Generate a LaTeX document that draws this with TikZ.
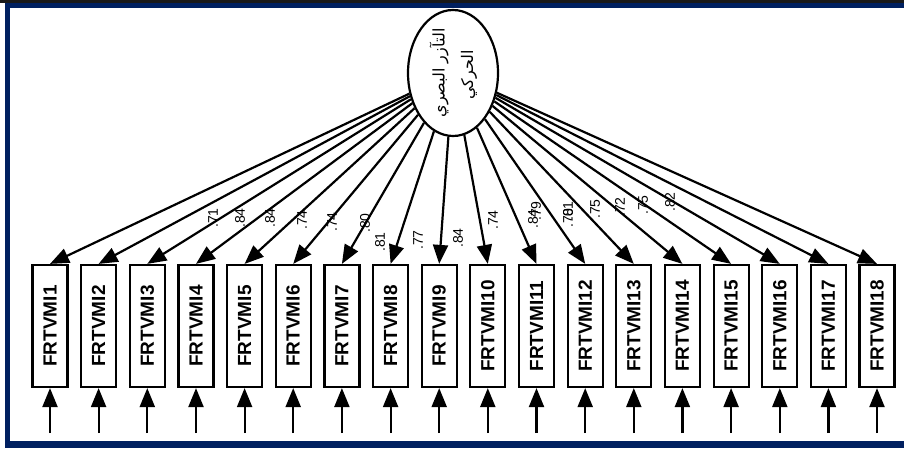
\documentclass[tikz,border=0pt]{standalone}
\usepackage{fontspec}
\setmainfont{Liberation Sans}
\newfontfamily\arabicfont[Script=Arabic]{DejaVu Sans}
\TeXXeTstate=1
\usetikzlibrary{arrows.meta,shapes.geometric}
\definecolor{framenavy}{RGB}{0,32,96}

\tikzset{
  obs/.style={draw, line width=2.2pt, fill=white, minimum width=35pt,
    minimum height=122pt, inner sep=0pt,
    font=\fontsize{19}{19}\selectfont\bfseries},
  latent/.style={draw, ellipse, line width=2.2pt, minimum width=90pt,
    minimum height=126pt, inner sep=0pt},
  lvlabel/.style={rotate=90, inner sep=0pt,
    font=\arabicfont\fontsize{16}{16}\selectfont},
  load/.style={->, line width=2.2pt},
  err/.style={->, line width=2.2pt},
  coef/.style={rotate=90, inner sep=0pt, font=\fontsize{14}{14}\selectfont}
}

\begin{document}
\begin{tikzpicture}[x=1pt,y=1pt,>={Triangle[length=19pt,width=15pt]}]

\useasboundingbox (0,0) rectangle (904,448);

% cadre
\fill[black!90] (0,445) rectangle (904,448);
\fill[framenavy] (5,440) rectangle (904,445);
\fill[framenavy] (5,0) rectangle (10,440);
\fill[framenavy] (5,0) rectangle (904,7);

% variable latente
\node[latent] (lv) at (453,375) {};
\node[lvlabel] (lv1) at (439,375) {\beginR التآزر البصري\endR};
\node[lvlabel] (lv2) at (469,373) {\beginR الحركي\endR};

% indicateurs
\node[obs] (v1) at (50.0,122) {\rotatebox{90}{FRTVMI1}};
\node[obs] (v2) at (98.6,122) {\rotatebox{90}{FRTVMI2}};
\node[obs] (v3) at (147.3,122) {\rotatebox{90}{FRTVMI3}};
\node[obs] (v4) at (196.0,122) {\rotatebox{90}{FRTVMI4}};
\node[obs] (v5) at (244.6,122) {\rotatebox{90}{FRTVMI5}};
\node[obs] (v6) at (293.2,122) {\rotatebox{90}{FRTVMI6}};
\node[obs] (v7) at (341.9,122) {\rotatebox{90}{FRTVMI7}};
\node[obs] (v8) at (390.6,122) {\rotatebox{90}{FRTVMI8}};
\node[obs] (v9) at (439.2,122) {\rotatebox{90}{FRTVMI9}};
\node[obs] (v10) at (487.8,122) {\rotatebox{90}{FRTVMI10}};
\node[obs] (v11) at (536.5,122) {\rotatebox{90}{FRTVMI11}};
\node[obs] (v12) at (585.2,122) {\rotatebox{90}{FRTVMI12}};
\node[obs] (v13) at (633.8,122) {\rotatebox{90}{FRTVMI13}};
\node[obs] (v14) at (682.4,122) {\rotatebox{90}{FRTVMI14}};
\node[obs] (v15) at (731.1,122) {\rotatebox{90}{FRTVMI15}};
\node[obs] (v16) at (779.8,122) {\rotatebox{90}{FRTVMI16}};
\node[obs] (v17) at (828.4,122) {\rotatebox{90}{FRTVMI17}};
\node[obs] (v18) at (877.0,122) {\rotatebox{90}{FRTVMI18}};

% saturations
\draw[load] (lv) -- (v1.north);
\draw[load] (lv) -- (v2.north);
\draw[load] (lv) -- (v3.north);
\draw[load] (lv) -- (v4.north);
\draw[load] (lv) -- (v5.north);
\draw[load] (lv) -- (v6.north);
\draw[load] (lv) -- (v7.north);
\draw[load] (lv) -- (v8.north);
\draw[load] (lv) -- (v9.north);
\draw[load] (lv) -- (v10.north);
\draw[load] (lv) -- (v11.north);
\draw[load] (lv) -- (v12.north);
\draw[load] (lv) -- (v13.north);
\draw[load] (lv) -- (v14.north);
\draw[load] (lv) -- (v15.north);
\draw[load] (lv) -- (v16.north);
\draw[load] (lv) -- (v17.north);
\draw[load] (lv) -- (v18.north);

% coefficients
\node[coef] (c1) at (213,230) {.71};
\node[coef] (c2) at (240,230) {.84};
\node[coef] (c3) at (270,230) {.84};
\node[coef] (c4) at (302,228) {.74};
\node[coef] (c5) at (332,226) {.74};
\node[coef] (c6) at (365,225) {.80};
\node[coef] (c7) at (380,206) {.81};
\node[coef] (c8) at (418,208) {.77};
\node[coef] (c9) at (458,210) {.84};
\node[coef] (c10) at (493,228) {.74};
\node[coef] (c11) at (533,229) {.84};
\node[coef] (c12) at (536,237) {.79};
\node[coef] (c13) at (568,230) {.70};
\node[coef] (c14) at (568,237) {.81};
\node[coef] (c15) at (595,239) {.75};
\node[coef] (c16) at (620,241) {.72};
\node[coef] (c17) at (643,243) {.75};
\node[coef] (c18) at (670,246) {.82};

% erreurs
\coordinate (e1) at (50.0,15);
\coordinate (e2) at (98.6,15);
\coordinate (e3) at (147.3,15);
\coordinate (e4) at (196.0,15);
\coordinate (e5) at (244.6,15);
\coordinate (e6) at (293.2,15);
\coordinate (e7) at (341.9,15);
\coordinate (e8) at (390.6,15);
\coordinate (e9) at (439.2,15);
\coordinate (e10) at (487.8,15);
\coordinate (e11) at (536.5,15);
\coordinate (e12) at (585.2,15);
\coordinate (e13) at (633.8,15);
\coordinate (e14) at (682.4,15);
\coordinate (e15) at (731.1,15);
\coordinate (e16) at (779.8,15);
\coordinate (e17) at (828.4,15);
\coordinate (e18) at (877.0,15);

\draw[err] (e1) -- (v1.south);
\draw[err] (e2) -- (v2.south);
\draw[err] (e3) -- (v3.south);
\draw[err] (e4) -- (v4.south);
\draw[err] (e5) -- (v5.south);
\draw[err] (e6) -- (v6.south);
\draw[err] (e7) -- (v7.south);
\draw[err] (e8) -- (v8.south);
\draw[err] (e9) -- (v9.south);
\draw[err] (e10) -- (v10.south);
\draw[err] (e11) -- (v11.south);
\draw[err] (e12) -- (v12.south);
\draw[err] (e13) -- (v13.south);
\draw[err] (e14) -- (v14.south);
\draw[err] (e15) -- (v15.south);
\draw[err] (e16) -- (v16.south);
\draw[err] (e17) -- (v17.south);
\draw[err] (e18) -- (v18.south);

\end{tikzpicture}
\end{document}
